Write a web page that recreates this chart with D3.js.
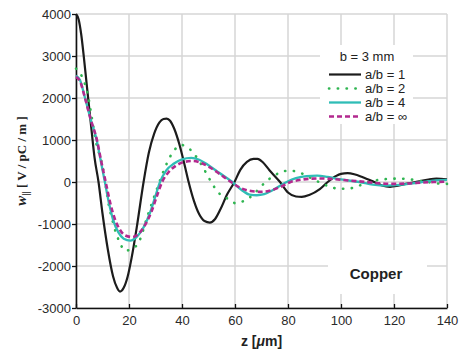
<!DOCTYPE html>
<html>
<head>
<meta charset="utf-8">
<script src="https://cdn.jsdelivr.net/npm/d3@7"></script>
<style>
  body { margin: 0; background: #fff; }
  svg { display: block; font-family: 'Liberation Sans', Arial, sans-serif; }
</style>
</head>
<body>
<svg id="chart"></svg>
<script>
// z [um], w [V/pC/m]
const wakeAb1 = [[0,4000],[1,3870],[2,3500],[3,2950],[4,2350],[5,1750],[6,1150],[7,580],[8.5,0],
    [10,-750],[12,-1600],[14,-2250],[15.5,-2520],[16.6,-2610],[18,-2520],[19.5,-2250],[21,-1800],
    [23,-1050],[25.5,0],[27.5,700],[29.5,1150],[31.5,1420],[33,1500],[34.2,1510],[35.5,1460],
    [37,1280],[39,900],[41,400],[42.5,0],[44.5,-450],[46.5,-770],[48.5,-930],[50.5,-965],
    [52.5,-880],[54.5,-650],[57,-300],[59.8,0],[62,290],[64.5,480],[67,550],[68.5,550],
    [70.5,470],[73,280],[77,0],[80,-250],[83,-345],[85.2,-355],[88,-310],[92,-170],[95,0],
    [98,140],[100,195],[102.5,210],[105,185],[108,120],[112.5,0],[115.5,-85],[118.5,-115],
    [121.5,-90],[125,-40],[129,10],[133,60],[136,80],[140,65]];

const wakeAb2 = [[0,2700],[2.1,2530],[3.4,2330],[4.3,2130],[6,1520],[7.8,880],[8.8,660],
    [10.3,290],[11,0],[12.6,-627],[13.5,-850],[14.3,-1048],[16.6,-1450],[18.5,-1635],
    [21.6,-1580],[23.8,-1420],[26.9,-825],[30.4,-190],[31.7,40],[34,405],[35.5,600],[37.4,780],
    [39.9,880],[43.3,760],[45.5,590],[47.4,405],[50.6,48],[52.5,-150],[54.7,-310],[57.8,-413],
    [60.3,-508],[63.5,-445],[66.7,-310],[68.8,-175],[71.3,-16],[73.8,112],[77,222],[80.1,270],
    [83.5,246],[86.4,167],[89.6,64],[92.7,-32],[95.8,-111],[99,-159],[102.5,-159],[105.9,-111],
    [109,-32],[112.5,31],[116,64],[119.4,80],[122.6,80],[126,64],[129.2,31],[132.6,0],
    [136,-32],[140,-45]];

const wakeAb4 = [[0,2530],[1.5,2430],[3.4,2000],[5.5,1500],[7.8,1000],[9.3,520],[10.9,0],
    [12.5,-520],[14,-900],[16,-1200],[18,-1350],[20.5,-1395],[23,-1300],[25.5,-1080],[28,-720],
    [30,-330],[31.7,0],[34,270],[37,440],[40,540],[43.5,575],[46.5,530],[50,400],[54,220],
    [59,0],[62.5,-190],[65.5,-300],[68.2,-315],[71,-290],[74,-200],[79.5,0],[83,90],[87,140],
    [91,150],[95,120],[100,60],[107,0],[112,-60],[117,-85],[122,-70],[127,-35],[132,10],
    [136,40],[140,50]];

const wakeAbInf = [[0,2500],[1.5,2400],[3.4,2000],[5.5,1500],[7.9,1000],[9.5,500],[11.2,0],
    [13,-520],[14.5,-850],[16.5,-1130],[18.5,-1270],[21.2,-1310],[23.5,-1240],[26,-1030],
    [28.5,-700],[30.5,-340],[32.5,0],[35,240],[38,400],[41,480],[44,500],[47,460],[50.5,350],
    [54,200],[58.5,0],[62,-140],[66,-215],[69.5,-235],[73,-210],[77,-120],[81,0],[85,55],
    [89,80],[93,85],[97,70],[103,35],[109.5,0],[114,-30],[119.5,-45],[125,-35],[130,-15],
    [135,0],[140,5]];

const seriesLabels = ['a/b = 1', 'a/b = 2', 'a/b = 4', 'a/b = \u221e'];
const legendTitle = 'b = 3 mm';
const xTicks = [0, 20, 40, 60, 80, 100, 120, 140];
const yTicks = [-3000, -2000, -1000, 0, 1000, 2000, 3000, 4000];

const width = 460, height = 353;
const margin = {top: 14, right: 13, bottom: 45, left: 76};
const innerWidth = width - margin.left - margin.right;
const innerHeight = height - margin.top - margin.bottom;

const styles = [
    {color: '#1c1c1c', width: 2.2, dash: null, cap: 'butt'},
    {color: '#2fb551', width: 2.6, dash: '0.3,8.5', cap: 'round'},
    {color: '#2fbdb6', width: 2.3, dash: null, cap: 'butt'},
    {color: '#b3298e', width: 2.6, dash: '5,3', cap: 'butt'}
];
const series = [wakeAb1, wakeAb2, wakeAb4, wakeAbInf];

const svg = d3.select('#chart')
    .attr('width', width)
    .attr('height', height);

const chart = svg.append('g')
    .attr('transform', `translate(${margin.left}, ${margin.top})`);

const xscale = d3.scaleLinear().domain([0, 140]).range([0, innerWidth]);
const yscale = d3.scaleLinear().domain([-3000, 4000]).range([innerHeight, 0]);

// grid
chart.append('g')
    .selectAll('line')
    .data(xTicks)
    .join('line')
    .attr('x1', d => xscale(d)).attr('x2', d => xscale(d))
    .attr('y1', 0).attr('y2', innerHeight)
    .attr('stroke', '#d6d6d6').attr('stroke-width', 1.5);

chart.append('g')
    .selectAll('line')
    .data(yTicks)
    .join('line')
    .attr('x1', 0).attr('x2', innerWidth)
    .attr('y1', d => yscale(d)).attr('y2', d => yscale(d))
    .attr('stroke', '#d6d6d6').attr('stroke-width', 1.5);

// white boxes behind legend and label
chart.append('rect')
    .attr('x', 320 - margin.left).attr('y', 45 - margin.top)
    .attr('width', 93).attr('height', 79)
    .attr('fill', '#fff');

chart.append('rect')
    .attr('x', 328 - margin.left).attr('y', 250 - margin.top)
    .attr('width', 99).attr('height', 44)
    .attr('fill', '#fff');

// axes
const xaxis = d3.axisBottom(xscale)
    .tickValues(xTicks)
    .tickSizeInner(-4)
    .tickSizeOuter(0)
    .tickPadding(8);

const yaxis = d3.axisLeft(yscale)
    .tickValues(yTicks)
    .tickFormat(d => String(d))
    .tickSize(4)
    .tickSizeOuter(0)
    .tickPadding(1);

const xg = chart.append('g')
    .attr('transform', `translate(0, ${innerHeight})`)
    .call(xaxis);
const yg = chart.append('g').call(yaxis);

[xg, yg].forEach(g => {
    g.attr('font-size', 13).attr('font-family', "'Liberation Sans', Arial, sans-serif");
    g.select('.domain').attr('stroke', '#111').attr('stroke-width', 1.6);
    g.selectAll('.tick line').attr('stroke', '#111').attr('stroke-width', 1.3);
    g.selectAll('.tick text').attr('fill', '#2a2a2a');
});

// curves
const line = d3.line()
    .x(d => xscale(d[0]))
    .y(d => yscale(d[1]))
    .curve(d3.curveMonotoneX);

chart.append('g')
    .selectAll('path')
    .data(series)
    .join('path')
    .attr('d', line)
    .attr('fill', 'none')
    .attr('stroke', (d, i) => styles[i].color)
    .attr('stroke-width', (d, i) => styles[i].width)
    .attr('stroke-dasharray', (d, i) => styles[i].dash)
    .attr('stroke-linecap', (d, i) => styles[i].cap);

// legend
const legend = svg.append('g');
legend.append('text')
    .attr('x', 367).attr('y', 60.5)
    .attr('text-anchor', 'middle')
    .attr('font-size', 13)
    .attr('fill', '#222')
    .text(legendTitle);

const rows = legend.selectAll('g.row')
    .data(seriesLabels)
    .join('g')
    .attr('class', 'row')
    .attr('transform', (d, i) => `translate(0, ${74.5 + i * 14})`);

rows.append('line')
    .attr('x1', 329).attr('x2', 361)
    .attr('y1', 0).attr('y2', 0)
    .attr('stroke', (d, i) => styles[i].color)
    .attr('stroke-width', (d, i) => styles[i].width)
    .attr('stroke-dasharray', (d, i) => styles[i].dash)
    .attr('stroke-linecap', (d, i) => styles[i].cap);

rows.append('text')
    .attr('x', 365).attr('y', 4.5)
    .attr('font-size', 13)
    .attr('fill', '#222')
    .text(d => d);

svg.append('text')
    .attr('x', 376).attr('y', 279)
    .attr('text-anchor', 'middle')
    .attr('font-size', 15)
    .attr('font-weight', 'bold')
    .attr('fill', '#222')
    .text('Copper');

// axis labels
const xlabel = svg.append('text')
    .attr('x', margin.left + innerWidth / 2)
    .attr('y', 346)
    .attr('text-anchor', 'middle')
    .attr('font-size', 14)
    .attr('font-weight', 'bold')
    .attr('fill', '#222');
xlabel.append('tspan').text('z [');
xlabel.append('tspan').attr('font-style', 'italic').text('\u03bc');
xlabel.append('tspan').text('m]');

const ylabel = svg.append('text')
    .attr('transform', `translate(26, ${margin.top + innerHeight / 2}) rotate(-90)`)
    .attr('text-anchor', 'middle')
    .attr('font-family', "'Liberation Serif', 'DejaVu Serif', serif")
    .attr('font-size', 13)
    .attr('font-weight', 'bold')
    .attr('fill', '#222');
ylabel.append('tspan').attr('font-style', 'italic').attr('font-size', 15).text('w');
ylabel.append('tspan').attr('dy', 3).attr('font-size', 10).text('||');
ylabel.append('tspan').attr('dy', -3).text(' [ V / pC / m ]');
</script>
</body>
</html>
